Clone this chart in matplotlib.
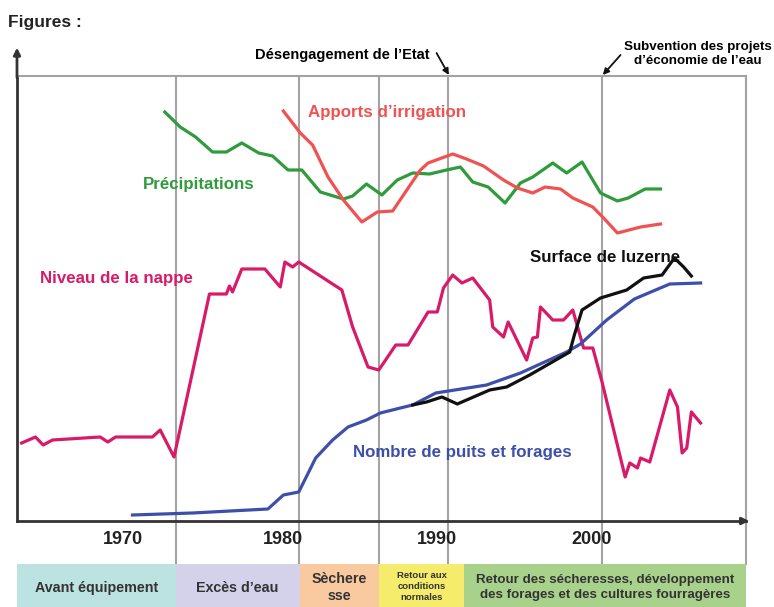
import numpy as np
import matplotlib
matplotlib.use("Agg")
import matplotlib.pyplot as plt

plt.rcParams['font.family'] = ['Liberation Sans', 'DejaVu Sans']

# --- data (x = year, y = relative index) ---
nappe_x = [1962.3, 1963.2, 1963.7, 1964.3, 1967.4, 1967.9, 1968.4, 1970.8, 1971.3, 1972.2,
           1974.5, 1975.6, 1975.8, 1976.0, 1976.6, 1978.1, 1979.1, 1979.4, 1979.9, 1980.3,
           1983.1, 1983.8, 1984.8, 1985.5, 1986.6, 1987.4, 1988.7, 1989.3, 1989.7, 1990.3,
           1990.9, 1991.6, 1992.7, 1992.9, 1993.6, 1993.9, 1995.1, 1995.5, 1995.8, 1996.0,
           1996.8, 1997.5, 1998.1, 1998.8, 1999.4, 2000.0, 2001.5, 2001.8, 2002.3, 2002.5,
           2003.1, 2004.4, 2004.9, 2005.2, 2005.5, 2005.8, 2006.4]
nappe_y = [78, 84, 76, 81, 84, 79, 84, 84, 91, 64,
           227, 227, 235, 229, 252, 252, 234, 259, 254, 259,
           231, 194, 154, 151, 176, 176, 209, 209, 233, 246,
           238, 243, 221, 194, 184, 199, 161, 183, 184, 214,
           201, 201, 211, 173, 173, 139, 44, 58, 53, 63,
           59, 131, 114, 68, 73, 109, 98]

puits_x = [1969.5, 1973.4, 1978.3, 1979.3, 1980.3, 1981.4, 1982.5, 1983.5, 1984.7, 1985.6,
           1986.9, 1987.7, 1989.2, 1992.5, 1994.7, 1997.7, 1998.6, 2000.3, 2002.1, 2004.4, 2006.4]
puits_y = [6, 8, 12, 26, 29, 63, 81, 94, 101, 108,
           113, 116, 128, 136, 148, 169, 177, 201, 222, 237, 238]

luzerne_x = [1987.7, 1988.6, 1989.6, 1990.6, 1992.7, 1993.8, 1995.3, 1997.9, 1998.2, 1998.7,
             1999.9, 2001.6, 2002.7, 2003.9, 2004.7, 2005.3, 2005.8]
luzerne_y = [116, 119, 124, 117, 131, 134, 146, 169, 186, 211,
             223, 231, 243, 246, 263, 254, 245]

precip_x = [1971.6, 1972.6, 1973.6, 1974.7, 1975.6, 1976.6, 1977.7, 1978.6, 1979.6, 1980.5,
            1981.7, 1983.2, 1983.8, 1984.7, 1985.7, 1986.7, 1987.7, 1988.8, 1989.9, 1990.8,
            1991.6, 1992.6, 1993.7, 1994.7, 1995.5, 1996.8, 1997.7, 1998.7, 1999.9, 2001.0,
            2001.7, 2002.8, 2003.8]
precip_y = [409, 394, 384, 369, 369, 378, 368, 365, 351, 351,
            329, 322, 325, 337, 326, 341, 348, 347, 351, 354,
            339, 334, 318, 338, 344, 358, 348, 359, 328, 320,
            323, 332, 332]

irrig_x = [1979.3, 1980.4, 1981.2, 1982.2, 1983.2, 1984.4, 1985.4, 1986.4, 1988.2, 1988.7,
           1990.3, 1991.2, 1992.3, 1993.6, 1994.5, 1995.5, 1996.3, 1997.3, 1998.1, 1999.4,
           2000.1, 2001.0, 2002.5, 2003.8]
irrig_y = [410, 388, 376, 344, 321, 299, 309, 310, 351, 358,
           367, 362, 355, 341, 333, 328, 334, 332, 323, 314,
           303, 288, 294, 297]

periods = [1972.3, 1980.3, 1985.5, 1990.0, 2000.0]
tick_pos = [1968.9, 1979.3, 1989.3, 1999.35]
tick_lab = ['1970', '1980', '1990', '2000']

band_edges = [1962.0, 1972.3, 1980.35, 1985.5, 1991.05, 2009.4]
band_text = ['Avant équipement', 'Excès d\u2019eau', 'Sèchere\nsse',
             'Retour aux\nconditions\nnormales',
             'Retour des sécheresses, développement\ndes forages et des cultures fourragères']
band_col = ['#bce2e1', '#d4d1ea', '#f9c9a0', '#f6ec6c', '#a8d28c']
band_fs = [10.3, 10.3, 10.3, 6.8, 9.6]

W, H = 774, 607
fig = plt.figure(figsize=(W / 100, H / 100), dpi=100)

x0, x1 = 17, 746
y_top, y_bot = 76, 521
ax = fig.add_axes([x0 / W, 1 - y_bot / H, (x1 - x0) / W, (y_bot - y_top) / H])
ax.set_xlim(1962.0, 2009.35)
ax.set_ylim(0, 445)

gray = '#a3a3a3'
for s in ['top', 'right']:
    ax.spines[s].set_color(gray)
    ax.spines[s].set_linewidth(1.5)
ax.spines['left'].set_color('#333333')
ax.spines['left'].set_linewidth(2)
ax.spines['bottom'].set_color('#333333')
ax.spines['bottom'].set_linewidth(2)

ext = (564 - y_bot) / (y_bot - y_top)
for p in periods + [2009.35]:
    ax.axvline(p, ymin=-ext, ymax=1, color=gray, lw=1.5, clip_on=False, zorder=1)

# axis arrows
ax.annotate('', xy=(1.008, 0), xytext=(0.99, 0), xycoords='axes fraction',
            arrowprops=dict(arrowstyle='-|>', color='#333333', lw=2, mutation_scale=10))
ax.annotate('', xy=(0, 1.07), xytext=(0, 0.99), xycoords='axes fraction',
            arrowprops=dict(arrowstyle='-|>', color='#333333', lw=2, mutation_scale=10))

ax.set_yticks([])
ax.set_xticks(tick_pos, tick_lab)
ax.tick_params(axis='x', length=0, pad=7, labelsize=13)
for t in ax.get_xticklabels():
    t.set_fontweight('bold')
    t.set_color('#222222')

lw = 2.3
ax.plot(nappe_x, nappe_y, color='#d81b68', lw=lw, zorder=3)
ax.plot(puits_x, puits_y, color='#3d4fa8', lw=lw, zorder=3)
ax.plot(luzerne_x, luzerne_y, color='#111111', lw=lw, zorder=4)
ax.plot(precip_x, precip_y, color='#2f9b3a', lw=lw, zorder=3)
ax.plot(irrig_x, irrig_y, color='#f05252', lw=lw, zorder=3)

lab = dict(fontsize=12.2, fontweight='bold', va='center')
ax.text(1970.2, 336, 'Précipitations', color='#2f9b3a', ha='left', **lab)
ax.text(1980.9, 408, 'Apports d\u2019irrigation', color='#f05252', ha='left', **lab)
ax.text(1963.5, 242, 'Niveau de la nappe', color='#d81b68', ha='left', **lab)
ax.text(1995.3, 264, 'Surface de luzerne', color='#111111', ha='left', **lab)
ax.text(1983.8, 68, 'Nombre de puits et forages', color='#3d4fa8', ha='left', **lab)

# event annotations
arr = dict(arrowstyle='-|>', color='#111111', lw=1.3, mutation_scale=9, shrinkA=0, shrinkB=0)
ax.text(1988.8, 466, 'Désengagement de l\u2019Etat', ha='right', va='center',
        fontsize=10.5, fontweight='bold', clip_on=False)
ax.annotate('', xy=(1990.05, 446), xytext=(1989.25, 468), annotation_clip=False, arrowprops=arr)
ax.annotate('', xy=(2000.05, 446), xytext=(2001.2, 466), annotation_clip=False, arrowprops=arr)
ax.text(2006.2, 467, 'Subvention des projets\nd\u2019économie de l\u2019eau', ha='center',
        va='center', fontsize=9.6, fontweight='bold', linespacing=1.2, clip_on=False)

# period bands
bax = fig.add_axes([x0 / W, 0, (x1 - x0) / W, (H - 564) / H], sharex=ax)
bax.set_ylim(0, 1)
bax.axis('off')
for i in range(len(band_text)):
    a, b = band_edges[i], band_edges[i + 1]
    bax.bar(a, 1, width=b - a, align='edge', color=band_col[i], lw=0)
    yy = 0.45 if i != 3 else 0.47
    bax.text((a + b) / 2, yy, band_text[i], ha='center', va='center',
             fontsize=band_fs[i], fontweight='bold', color='#333333',
             linespacing=1.3 if i != 3 else 1.3, clip_on=True)

fig.text(8 / W, 1 - 22 / H, 'Figures :', fontsize=12.5, fontweight='bold',
         color='#222222', va='center')

fig.savefig('out.png', dpi=100)
